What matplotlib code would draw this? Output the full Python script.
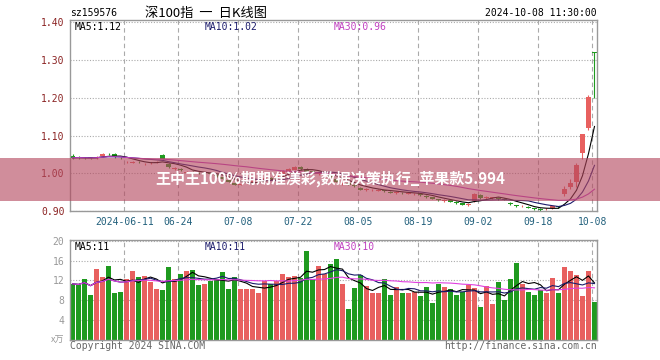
"""Daily K-line chart of sz159576 with volume panel"""

import numpy as np
import pandas as pd
import matplotlib

matplotlib.use("Agg")
from matplotlib import pyplot as plt
from matplotlib.patches import Rectangle


W, H = 660, 360

# ticks on the date axis (bar index -> label)
tick_index = [9, 18, 28, 38, 48, 58, 68, 78, 87]
tick_labels = ["2024-06-11", "06-24", "07-08", "07-22", "08-05",
               "08-19", "09-02", "09-18", "10-08"]

opens = [1.047, 1.043, 1.041, 1.042, 1.040, 1.046, 1.051, 1.051, 1.041, 1.029,
         1.028, 1.030, 1.024, 1.026, 1.028, 1.049, 1.025, 1.012, 1.011, 1.002,
         1.003, 1.001, 1.000, 1.000, 0.996, 0.989, 0.981, 0.974, 0.970, 0.973,
         0.976, 0.979, 0.983, 0.988, 0.987, 0.996, 1.004, 1.010, 1.017, 1.012,
         1.005, 0.997, 0.992, 0.995, 0.986, 0.972, 0.973, 0.969, 0.962, 0.955,
         0.955, 0.954, 0.955, 0.951, 0.948, 0.949, 0.946, 0.944, 0.945, 0.941,
         0.936, 0.931, 0.927, 0.928, 0.924, 0.920, 0.916, 0.927, 0.943, 0.934,
         0.934, 0.935, 0.933, 0.921, 0.915, 0.912, 0.911, 0.907, 0.905, 0.904,
         0.908, 0.912, 0.944, 0.964, 0.977, 1.054, 1.119, 1.322]
highs = [1.050, 1.045, 1.044, 1.043, 1.045, 1.054, 1.055, 1.053, 1.043, 1.033,
         1.032, 1.032, 1.028, 1.030, 1.032, 1.051, 1.027, 1.017, 1.013, 1.006,
         1.005, 1.003, 1.004, 1.002, 0.998, 0.991, 0.983, 0.976, 0.974, 0.977,
         0.981, 0.984, 0.990, 0.990, 0.997, 1.008, 1.015, 1.020, 1.019, 1.014,
         1.007, 1.003, 0.998, 0.997, 0.988, 0.978, 0.975, 0.971, 0.964, 0.960,
         0.959, 0.958, 0.957, 0.953, 0.952, 0.951, 0.950, 0.948, 0.947, 0.943,
         0.938, 0.933, 0.931, 0.930, 0.926, 0.922, 0.920, 0.947, 0.945, 0.939,
         0.938, 0.937, 0.935, 0.923, 0.917, 0.916, 0.913, 0.909, 0.907, 0.908,
         0.914, 0.914, 0.967, 0.986, 1.027, 1.105, 1.207, 1.323]
lows = [1.039, 1.039, 1.038, 1.038, 1.039, 1.044, 1.048, 1.041, 1.037, 1.026,
        1.026, 1.027, 1.022, 1.024, 1.026, 1.037, 1.015, 1.010, 1.006, 1.000,
        0.999, 0.998, 0.998, 0.996, 0.991, 0.983, 0.976, 0.968, 0.968, 0.971,
        0.974, 0.977, 0.981, 0.983, 0.985, 0.994, 1.002, 1.008, 1.010, 1.001,
        1.002, 0.995, 0.990, 0.988, 0.976, 0.970, 0.968, 0.963, 0.955, 0.953,
        0.953, 0.952, 0.950, 0.947, 0.946, 0.945, 0.944, 0.942, 0.940, 0.935,
        0.931, 0.926, 0.925, 0.923, 0.919, 0.915, 0.914, 0.925, 0.933, 0.932,
        0.932, 0.930, 0.928, 0.916, 0.910, 0.910, 0.907, 0.903, 0.901, 0.902,
        0.906, 0.908, 0.940, 0.959, 0.964, 1.039, 1.116, 1.200]
closes = [1.041, 1.042, 1.040, 1.040, 1.043, 1.052, 1.050, 1.043, 1.040, 1.030,
          1.029, 1.029, 1.025, 1.028, 1.030, 1.039, 1.017, 1.014, 1.008, 1.004,
          1.001, 1.000, 1.002, 0.998, 0.993, 0.985, 0.978, 0.970, 0.972, 0.975,
          0.979, 0.982, 0.988, 0.985, 0.995, 1.005, 1.012, 1.017, 1.012, 1.003,
          1.004, 1.000, 0.995, 0.990, 0.978, 0.975, 0.970, 0.965, 0.957, 0.958,
          0.956, 0.956, 0.952, 0.949, 0.950, 0.947, 0.948, 0.946, 0.942, 0.937,
          0.933, 0.928, 0.929, 0.925, 0.921, 0.917, 0.918, 0.945, 0.935, 0.937,
          0.936, 0.932, 0.930, 0.918, 0.912, 0.914, 0.909, 0.905, 0.903, 0.906,
          0.912, 0.910, 0.959, 0.973, 1.021, 1.105, 1.202, 1.320]
# volume in units of 10k (万)
volumes = [11.3, 11.1, 12.3, 9.1, 14.3, 12.7, 14.9, 9.5, 9.7, 12.3,
           13.9, 12.6, 12.9, 11.7, 10.3, 10.0, 14.7, 12.2, 13.3, 13.9,
           14.1, 11.1, 11.3, 11.8, 12.2, 13.7, 10.3, 12.7, 10.3, 10.3,
           10.3, 9.5, 11.9, 11.3, 11.9, 13.3, 12.7, 12.9, 12.4, 18.0,
           12.3, 15.0, 13.3, 15.4, 16.4, 11.3, 6.3, 10.4, 13.0, 10.8,
           9.4, 9.4, 12.3, 9.1, 10.6, 9.5, 9.4, 9.7, 8.9, 10.7,
           7.5, 11.3, 10.6, 10.2, 9.1, 9.6, 11.0, 10.4, 6.6, 10.8,
           7.2, 11.7, 8.1, 12.3, 15.5, 11.3, 9.7, 9.1, 10.0, 9.5,
           12.5, 9.5, 14.7, 13.9, 13.1, 8.9, 13.9, 7.7]

RED = "#e8605f"
GREEN = "#1f9a1f"
MA_COLORS = {5: "#000000", 10: "#1c1c6c", 30: "#c040c0"}
GRID = "#aaaaaa"
SPINE = "#999999"
MONO = "DejaVu Sans Mono"
CJK = ["Noto Sans CJK SC", "DejaVu Sans"]

plt.rcParams["font.family"] = MONO


def box(left, top, right, bottom):
    """Pixel box -> figure fraction rect"""
    return [left / W, 1 - bottom / H, (right - left) / W, (bottom - top) / H]


def px(x, y):
    return x / W, 1 - y / H


def moving_average(values, window):
    return pd.Series(values).rolling(window, min_periods=1).mean().to_numpy()


def style_axis(ax):
    ax.set_xlim(-0.42, len(closes) - 1 + 0.42)
    ax.set_xticks(np.array(tick_index) - 0.35)
    ax.grid(axis="x", linestyle=(0, (4, 3)), color=GRID, lw=0.8)
    ax.grid(axis="y", linestyle=(0, (1, 1.5)), color=GRID, lw=0.8)
    ax.set_axisbelow(True)
    for spine in ax.spines.values():
        spine.set_color(SPINE)
        spine.set_linewidth(1)
    ax.tick_params(length=0, labelsize=7)


def plot_price(ax, x, colors):
    o, h, l, c = map(np.array, (opens, highs, lows, closes))
    ax.vlines(x, l, h, colors=colors, lw=0.8, zorder=2)
    body = np.maximum(np.abs(c - o), 0.0012)
    ax.bar(x, body, bottom=np.minimum(o, c), width=0.8, color=colors,
           lw=0, zorder=2)
    for window, color in MA_COLORS.items():
        ax.plot(x, moving_average(c, window), color=color, lw=0.8, zorder=3)

    style_axis(ax)
    ax.set_ylim(0.9, 1.4066)
    yt = [0.9, 1.0, 1.1, 1.2, 1.3, 1.4]
    ax.set_yticks(yt, [f"{v:.2f}" for v in yt])
    ax.set_xticklabels(tick_labels)
    ax.tick_params(axis="y", pad=4, labelcolor="#8b2323")
    ax.tick_params(axis="x", pad=4.5, labelcolor="#22607c")

    labels = [f"MA5:{moving_average(c, 5)[-1]:.2f}",
              f"MA10:{moving_average(c, 10)[-1]:.2f}",
              f"MA30:{moving_average(c, 30)[-1]:.2f}"]
    for xp, text, color in zip([75, 205, 334], labels, MA_COLORS.values()):
        ax.figure.text(*px(xp, 27), text, color=color, fontsize=7,
                       va="center", ha="left")


def plot_volume(ax, x, colors):
    v = np.array(volumes)
    ax.bar(x, v, width=0.8, color=colors, lw=0, zorder=2)
    for window, color in MA_COLORS.items():
        line_color = "#e040e0" if window == 30 else color
        ax.plot(x, moving_average(v, window), color=line_color, lw=0.8,
                zorder=3)

    style_axis(ax)
    ax.set_ylim(0, 20.15)
    ax.set_yticks([4, 8, 12, 16, 20], ["4", "8", "12", "16", "20"])
    ax.tick_params(axis="y", pad=4, labelcolor="#999999")
    ax.tick_params(axis="x", labelbottom=False)

    labels = [f"MA5:{int(moving_average(v, 5)[-1])}",
              f"MA10:{int(moving_average(v, 10)[-1])}",
              f"MA30:{int(moving_average(v, 30)[-1])}"]
    for xp, text, color in zip([75, 205, 334], labels,
                               ["#000000", "#1c1c6c", "#c040c0"]):
        ax.figure.text(*px(xp, 247), text, color=color, fontsize=7,
                       va="center", ha="left")


def main():
    fig = plt.figure(figsize=(W / 100, H / 100), dpi=100)
    x = np.arange(len(closes))
    colors = np.where(np.array(closes) >= np.array(opens), RED, GREEN)

    plot_price(fig.add_axes(box(70, 20, 597, 211)), x, colors)
    plot_volume(fig.add_axes(box(70, 240, 597, 340)), x, colors)

    # header
    fig.text(*px(70, 13), "sz159576", fontsize=7, va="center", ha="left")
    fig.text(*px(206, 13), "深100指  一  日K线图", family=CJK, fontsize=9.5,
             va="center", ha="center")
    fig.text(*px(597, 13), "2024-10-08 11:30:00", fontsize=7, va="center",
             ha="right")
    # footer
    fig.text(*px(64, 340), "x万", family=CJK, fontsize=6.5, color="#999999",
             va="center", ha="right")
    fig.text(*px(70, 346), "Copyright 2024 SINA.COM", fontsize=7,
             color="#666666", va="center", ha="left")
    fig.text(*px(597, 346), "http://finance.sina.com.cn", fontsize=7,
             color="#666666", va="center", ha="right")

    # banner overlay
    fig.patches.append(Rectangle(px(0, 201), 1, 43 / H, transform=fig.transFigure,
                                 facecolor="#b4485e", alpha=0.62, lw=0,
                                 zorder=5))
    fig.text(*px(330, 179), "王中王100%期期准渼彩,数据决策执行_苹果款5.994",
             family=CJK, fontsize=10.8, fontweight="bold", color="white",
             va="center", ha="center", zorder=6)

    fig.savefig("out.png", dpi=100)


if __name__ == "__main__":
    main()
